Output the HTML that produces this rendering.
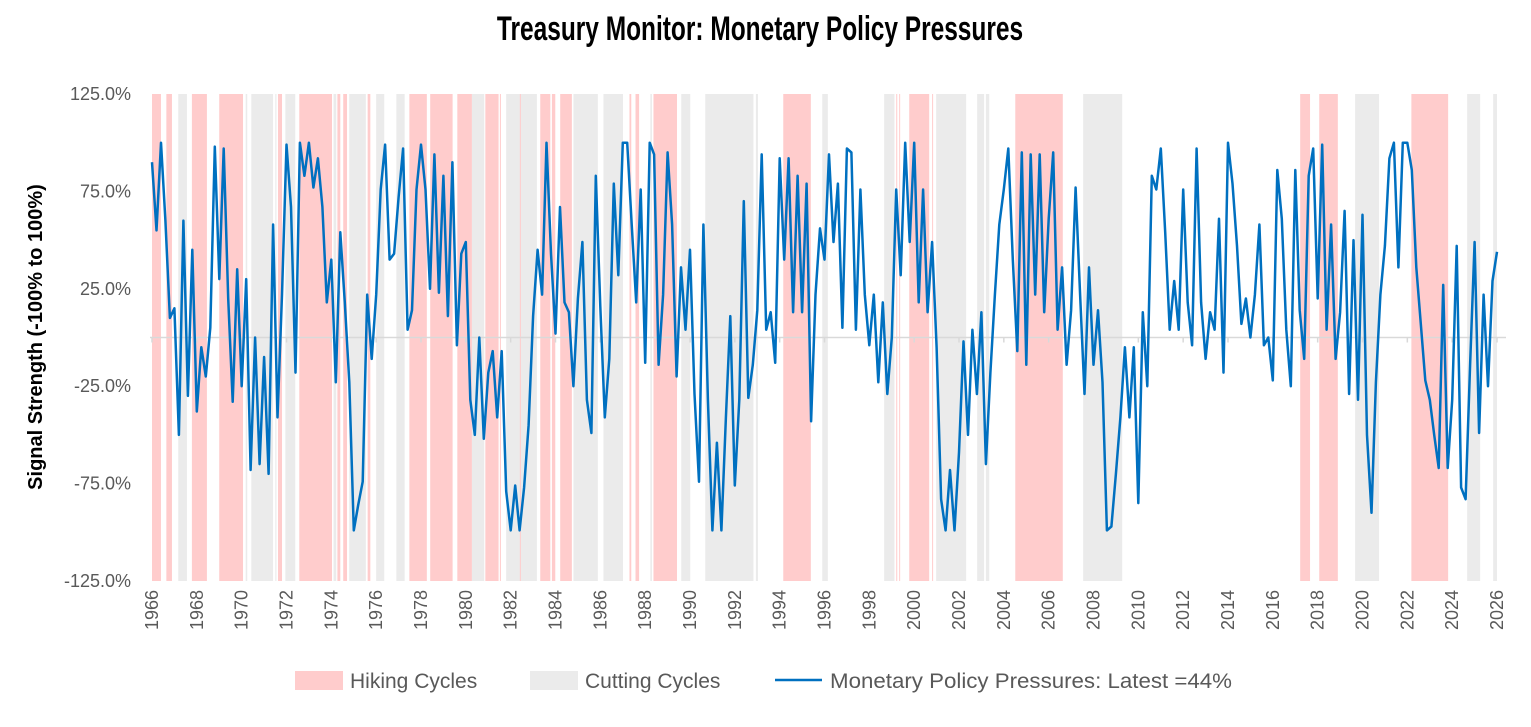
<!DOCTYPE html>
<html><head><meta charset="utf-8">
<style>
body{margin:0;background:#fff;width:1531px;height:722px;overflow:hidden;font-family:"Liberation Sans",sans-serif;}
svg text{font-family:"Liberation Sans",sans-serif;}
</style></head>
<body>
<svg id="chart" width="1531" height="722" xmlns="http://www.w3.org/2000/svg">
<text x="760" y="40" text-anchor="middle" font-size="34" font-weight="bold" fill="#000" transform="translate(760,0) scale(0.72,1) translate(-760,0)" style="font-family:'Liberation Sans Narrow','Liberation Sans',sans-serif">Treasury Monitor: Monetary Policy Pressures</text>
<g id="bands"></g>
<g id="axes"></g>
<g id="series"></g>
<text transform="translate(42,337) rotate(-90)" text-anchor="middle" font-size="20" font-weight="bold" fill="#000">Signal Strength (-100% to 100%)</text>
<g>
<rect x="295" y="671" width="48" height="19" fill="#FFCCCC"/>
<text x="350" y="688" font-size="21" fill="#595959">Hiking Cycles</text>
<rect x="530" y="671" width="48" height="19" fill="#EBEBEB"/>
<text x="585" y="688" font-size="21" fill="#595959">Cutting Cycles</text>
<line x1="775" y1="680" x2="822" y2="680" stroke="#0070C0" stroke-width="2.5"/>
<text x="830" y="688" font-size="21" fill="#595959" textLength="402" lengthAdjust="spacingAndGlyphs">Monetary Policy Pressures: Latest =44%</text>
</g>
</svg>
<script>
const hikingStarts=[1966.0,1966.64,1967.78,1969.0,1971.62,1972.57,1974.27,1974.53,1975.62,1977.48,1978.41,1979.62,1980.87,1981.52,1982.41,1983.32,1983.84,1984.21,1987.30,1987.57,1988.37,1994.16,1999.20,1999.33,1999.78,2000.80,2004.51,2017.22,2018.07,2022.18];
const hikingEnds=[1966.40,1966.89,1968.45,1970.06,1971.80,1974.03,1974.40,1974.70,1975.74,1978.26,1979.41,1980.27,1981.46,1981.56,1982.45,1983.77,1983.99,1984.73,1987.38,1987.73,1989.42,1995.39,1999.24,1999.37,2000.67,2000.84,2006.63,2017.66,2018.90,2023.82];
const cuttingStarts=[1967.17,1970.18,1970.43,1971.50,1971.95,1974.10,1974.80,1976.00,1976.90,1980.27,1981.80,1984.80,1986.14,1988.23,1989.61,1990.68,1992.94,1995.90,1998.66,2000.98,2002.81,2003.20,2007.54,2019.67,2024.67,2025.83];
const cuttingEnds=[1967.56,1970.25,1971.40,1971.55,1972.39,1974.22,1975.54,1976.36,1977.27,1980.82,1983.17,1985.89,1987.01,1988.30,1990.01,1992.83,1993.03,1996.15,1999.12,2002.32,2003.12,2003.35,2009.28,2020.74,2025.25,2026.0];
const yTickValues=[125,75,25,-25,-75,-125];
const yTickLabels=["125.0%","75.0%","25.0%","-25.0%","-75.0%","-125.0%"];
const xTickYears=[1966,1968,1970,1972,1974,1976,1978,1980,1982,1984,1986,1988,1990,1992,1994,1996,1998,2000,2002,2004,2006,2008,2010,2012,2014,2016,2018,2020,2022,2024,2026];
const seriesStart=1966.0;
const seriesStep=0.2;
const seriesValues=[
90,55,100,60,10, 15,-50,60,-30,45, -38,-5,-20,5,98, 30,97,20,-33,35, -25,30,-68,0,-65,
-10,-70,58,-41,22, 99,67,-18,100,83, 100,77,92,67,18, 40,-23,54,18,-23, -99,-86,-74,22,-11,
22,76,99,40,43, 72,97,4,14,76, 99,76,25,94,23, 83,11,90,-4,43, 49,-32,-50,0,-52,
-18,-7,-41,-7,-79, -99,-76,-99,-77,-45, 11,45,22,100,43, 2,67,18,13,-25, 20,49,-32,-49,83,
16,-41,-11,79,32, 100,100,58,18,76, -13,100,94,-14,22, 95,58,-20,36,4, 45,-29,-74,58,-32,
-99,-54,-99,-41,11, -76,-32,70,-31,-14, 14,94,4,13,-13, 92,40,92,13,83, 13,79,-43,22,56,
40,94,49,79,5, 97,95,4,76,22, -4,22,-23,18,-29, 0,76,32,100,49, 100,18,76,13,49,
-5,-83,-99,-68,-99, -59,-2,-50,4,-29, 13,-65,-18,22,58, 76,97,40,-7,95, -14,94,22,94,13,
61,95,4,36,-14, 14,77,22,-29,36, -14,14,-23,-99,-97, -70,-41,-5,-41,-5, -85,13,-25,83,76,
97,54,4,29,4, 76,18,-4,97,18, -11,13,4,61,-18, 100,79,47,7,20, 0,22,58,-4,0,
-22,86,61,4,-25, 86,14,-11,83,97, 20,99,4,58,-11, 13,65,-29,50,-32, 63,-50,-90,-23,22,
47,92,100,36,100, 100,86,36,7,-22, -32,-50,-67,27,-67, -32,47,-77,-83,-14, 49,-49,22,-25,29,
44];

const X0=152, X1=1497, Y_TOP=94, Y_BOT=581;
const xScale=y=>X0+(y-1966)/(2026-1966)*(X1-X0);
const yScale=v=>Y_BOT-(v+125)/250*(Y_BOT-Y_TOP);
const NS="http://www.w3.org/2000/svg";
const bandsG=document.getElementById('bands');
function band(s,e,fill,name){
  const r=document.createElementNS(NS,'rect');
  r.setAttribute('x',xScale(s));r.setAttribute('y',Y_TOP);
  r.setAttribute('width',Math.max(1,xScale(e)-xScale(s)));r.setAttribute('height',Y_BOT-Y_TOP);
  r.setAttribute('fill',fill);
  
  
  bandsG.appendChild(r);
}
cuttingStarts.forEach((s,i)=>band(s,cuttingEnds[i],'#EBEBEB','cutting-cycle-band'));
hikingStarts.forEach((s,i)=>band(s,hikingEnds[i],'#FFCCCC','hiking-cycle-band'));

const axG=document.getElementById('axes');
const zl=document.createElementNS(NS,'line');
zl.setAttribute('x1',X0-2);zl.setAttribute('x2',1506);zl.setAttribute('y1',yScale(0));zl.setAttribute('y2',yScale(0));
zl.setAttribute('stroke','#D9D9D9');zl.setAttribute('stroke-width','1.5');


axG.appendChild(zl);
yTickValues.forEach((v,i)=>{
  const t=document.createElementNS(NS,'text');
  t.setAttribute('x',131);t.setAttribute('y',yScale(v)+6);
  t.setAttribute('text-anchor','end');t.setAttribute('font-size','18');t.setAttribute('fill','#595959');
  t.textContent=yTickLabels[i];
  
  
  axG.appendChild(t);
});
xTickYears.forEach(yr=>{
  const x=xScale(yr);
  const tk=document.createElementNS(NS,'line');
  tk.setAttribute('x1',x);tk.setAttribute('x2',x);tk.setAttribute('y1',yScale(0));tk.setAttribute('y2',yScale(0)+5);
  tk.setAttribute('stroke','#D9D9D9');tk.setAttribute('stroke-width','1.5');
  
  
  axG.appendChild(tk);
  const t=document.createElementNS(NS,'text');
  t.setAttribute('transform','translate('+(x+6)+',590) rotate(-90)');
  t.setAttribute('text-anchor','end');t.setAttribute('font-size','18');t.setAttribute('fill','#595959');
  t.textContent=String(yr);
  
  
  axG.appendChild(t);
});

const pts=seriesValues.map((v,i)=>xScale(seriesStart+i*seriesStep).toFixed(1)+','+yScale(v).toFixed(1)).join(' ');
const pl=document.createElementNS(NS,'polyline');
pl.setAttribute('points',pts);pl.setAttribute('fill','none');pl.setAttribute('stroke','#0070C0');
pl.setAttribute('stroke-width','2.5');pl.setAttribute('stroke-linejoin','round');


document.getElementById('series').appendChild(pl);
</script>
</body></html>
